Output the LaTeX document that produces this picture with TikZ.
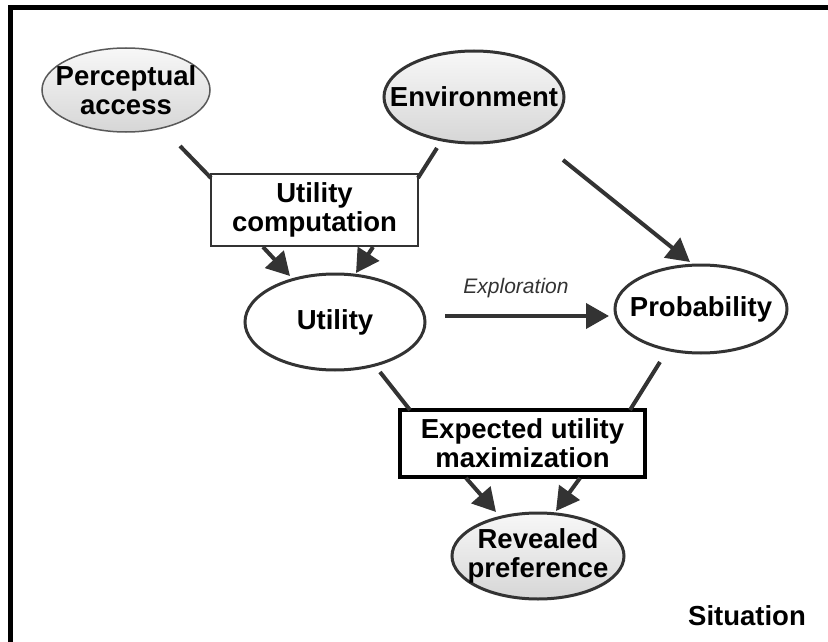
\documentclass[tikz,border=0pt]{standalone}
\usepackage{fontspec}
\setmainfont{Liberation Sans}
\usetikzlibrary{shapes.geometric,arrows.meta}
\definecolor{ink}{HTML}{333333}
\tikzset{
  lbl/.style={font=\fontsize{27.5}{29}\selectfont\bfseries, align=center, text=black},
  % ellipses get a fixed size; their text sits on top as a centred label
  ellbase/.style={ellipse, inner sep=0pt},
  grayell/.style={ellbase, top color=gray!6, bottom color=gray!32},
  whiteell/.style={ellbase, fill=white, draw=ink, line width=3pt},
  intext/.style={label={[lbl]center:#1}},
  conn/.style={draw=ink, line width=4pt},
  arr/.style={conn, -{Triangle[length=23pt,width=25pt]}},
}
\begin{document}
\begin{tikzpicture}[x=1pt,y=-1pt]
\useasboundingbox (0,0) rectangle (828,642);
% outer frame, running off the right and bottom edges
\draw[line width=5pt] (900,7.5) -- (10.5,7.5) -- (10.5,700);

% nodes
\node[grayell, draw=gray!70!black, line width=1.5pt, minimum width=168pt, minimum height=84pt, intext={Perceptual\\access}] (pa) at (126,90) {};
\node[grayell, draw=ink, line width=3pt, minimum width=180pt, minimum height=92pt, intext={Environment}] (env) at (474,97) {};
\node[draw=ink, line width=1.2pt, fill=white, minimum width=207pt, minimum height=72pt, inner sep=0pt, lbl] (uc) at (314.5,210) {Utility\\computation};
\node[whiteell, minimum width=180pt, minimum height=96pt, intext={Utility}] (ut) at (335,322) {};
\node[whiteell, minimum width=172pt, minimum height=88pt, intext={Probability}] (pr) at (701,309) {};
\node[draw=black, line width=4pt, fill=white, minimum width=245pt, minimum height=67pt, inner sep=0pt, lbl] (eu) at (522.5,443.5) {Expected utility\\maximization};
\node[grayell, draw=ink, line width=3pt, minimum width=172pt, minimum height=86pt, intext={Revealed\\preference}] (rp) at (538,556) {};

\node[font=\fontsize{21}{23}\selectfont\itshape, text=ink] (expl) at (516,288) {Exploration};
\node[lbl] (sit) at (747,616) {Situation};

% connector end points
\coordinate (paOut) at (180,146);
\coordinate (ucIn1) at (211,178);
\coordinate (envOut1) at (437,148);
\coordinate (ucIn2) at (418,178);
\coordinate (ucOut1) at (263,247);
\coordinate (utIn1) at (290,276);
\coordinate (ucOut2) at (373,247);
\coordinate (utIn2) at (356,273);
\coordinate (envOut2) at (563,160);
\coordinate (prIn) at (690,262);
\coordinate (utOut) at (445,316);
\coordinate (prIn2) at (609,316);
\coordinate (utOut2) at (380,372);
\coordinate (euIn1) at (410,410);
\coordinate (prOut) at (660,362);
\coordinate (euIn2) at (630,410);
\coordinate (euOut1) at (466,478);
\coordinate (rpIn1) at (496,512);
\coordinate (euOut2) at (580,478);
\coordinate (rpIn2) at (556,511);

% connectors
\draw[conn] (paOut) -- (ucIn1);
\draw[conn] (envOut1) -- (ucIn2);
\draw[arr] (ucOut1) -- (utIn1);
\draw[arr] (ucOut2) -- (utIn2);
\draw[arr] (envOut2) -- (prIn);
\draw[arr] (utOut) -- (prIn2);
\draw[conn] (utOut2) -- (euIn1);
\draw[conn] (prOut) -- (euIn2);
\draw[arr] (euOut1) -- (rpIn1);
\draw[arr] (euOut2) -- (rpIn2);
\end{tikzpicture}
\end{document}
